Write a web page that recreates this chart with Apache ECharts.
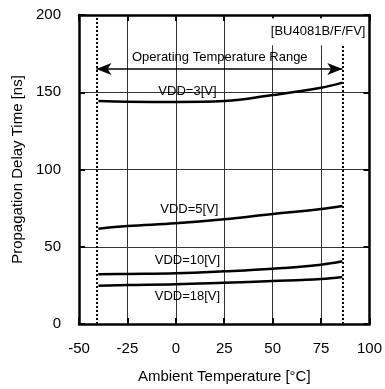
<!DOCTYPE html>
<html><head><meta charset="utf-8">
<script src="https://cdn.jsdelivr.net/npm/echarts@6/dist/echarts.min.js"></script>
<style>html,body{margin:0;padding:0;background:#fff}#c{width:385px;height:389px}</style>
</head><body><div id="c"></div>
<script>
const temps = [-40, -25, 0, 25, 50, 75, 86];
const vdd3 = [144.3, 143.9, 143.7, 144.3, 148.2, 152.9, 156.2];
const vdd5 = [61.7, 63.4, 65.2, 67.8, 71.2, 74.4, 76.4];
const vdd10 = [32.2, 32.4, 32.8, 34.1, 35.8, 38.4, 40.6];
const vdd18 = [24.8, 25.2, 25.7, 26.7, 27.8, 29.1, 30.4];
const seriesNames = ['VDD=3[V]', 'VDD=5[V]', 'VDD=10[V]', 'VDD=18[V]'];
const labelPos = [[6, 150.8], [7, 74.2], [6, 41.4], [6, 17.7]];
const xTicks = [-50, -25, 0, 25, 50, 75, 100];
const yTicks = [0, 50, 100, 150, 200];
const rangeMin = -41, rangeMax = 86, arrowY = 165;

const font = 'Liberation Sans, Arial, sans-serif';
const all = [vdd3, vdd5, vdd10, vdd18];
const series = all.map((vals, i) => ({
  type: 'line', name: seriesNames[i], smooth: 0.4, symbol: 'none',
  data: temps.map((t, j) => [t, vals[j]]),
  lineStyle: {color: '#000', width: 2.5},
  markPoint: {
    symbol: 'circle', symbolSize: 0,
    data: [{coord: labelPos[i], value: seriesNames[i]}],
    label: {show: true, position: 'inside', formatter: seriesNames[i], color: '#000', fontSize: 13, fontFamily: font}
  }
}));
series.push({
  type: 'line', data: [], silent: true,
  markLine: {
    silent: true, symbol: 'none', animation: false,
    lineStyle: {color: '#000', type: [2, 2], width: 2},
    label: {show: false},
    data: [
      [{coord: [rangeMin, 0]}, {coord: [rangeMin, 200]}],
      [{coord: [rangeMax, 0]}, {coord: [rangeMax, 180]}],
      [{coord: [rangeMin, arrowY], symbol: 'arrow', symbolSize: [9, 15], lineStyle: {type: 'solid', width: 1.5}},
       {coord: [rangeMax, arrowY], symbol: 'arrow', symbolSize: [9, 15], lineStyle: {type: 'solid', width: 1.5}}]
    ]
  }
});
series.push({
  type: 'line', data: [], silent: true,
  markPoint: {
    symbol: 'circle', symbolSize: 0,
    data: [
      {coord: [22.7, 172.6], label: {formatter: 'Operating Temperature Range'}},
      {coord: [100, 189.2], label: {formatter: '[BU4081B/F/FV]', position: 'left', distance: 3, backgroundColor: '#fff', padding: [7, 1, 7, 4]}}
    ],
    label: {show: true, position: 'inside', color: '#000', fontSize: 13, fontFamily: font}
  }
});

const tickStyle = {inside: true, length: 6, lineStyle: {color: '#000', width: 2}};
const chart = echarts.init(document.getElementById('c'), null, {renderer: 'canvas'});
chart.setOption({
  animation: false,
  backgroundColor: '#fff',
  grid: {left: 79, right: 9, top: 15, bottom: 65},
  xAxis: [{
    type: 'value', min: -50, max: 100, interval: 25,
    name: 'Ambient Temperature [°C]', nameLocation: 'middle', nameGap: 45,
    nameTextStyle: {fontSize: 15, color: '#000', fontFamily: font},
    axisLine: {onZero: false, lineStyle: {color: '#000', width: 2.5}},
    axisTick: tickStyle,
    axisLabel: {fontSize: 15, color: '#000', fontFamily: font, margin: 17,
      formatter: v => xTicks.includes(v) ? String(v) : ''},
    splitLine: {show: true, lineStyle: {color: '#333', width: 1}}
  }, {
    type: 'value', min: -50, max: 100, interval: 25, position: 'top',
    axisLine: {show: true, onZero: false, lineStyle: {color: '#000', width: 2.5}},
    axisLabel: {show: false}, splitLine: {show: false}, axisTick: tickStyle
  }],
  yAxis: [{
    type: 'value', min: 0, max: 200, interval: 50,
    name: 'Propagation Delay Time [ns]', nameLocation: 'middle', nameGap: 52,
    nameTextStyle: {fontSize: 15, color: '#000', fontFamily: font},
    axisLine: {show: true, onZero: false, lineStyle: {color: '#000', width: 2.5}},
    axisTick: Object.assign({show: true}, tickStyle),
    axisLabel: {fontSize: 15, color: '#000', fontFamily: font, margin: 18,
      formatter: v => yTicks.includes(v) ? String(v) : ''},
    splitLine: {show: true, lineStyle: {color: '#333', width: 1}}
  }, {
    type: 'value', min: 0, max: 200, interval: 50, position: 'right',
    axisLine: {show: true, onZero: false, lineStyle: {color: '#000', width: 2.5}},
    axisLabel: {show: false}, splitLine: {show: false},
    axisTick: Object.assign({show: true}, tickStyle)
  }],
  series: series
});
</script></body></html>
